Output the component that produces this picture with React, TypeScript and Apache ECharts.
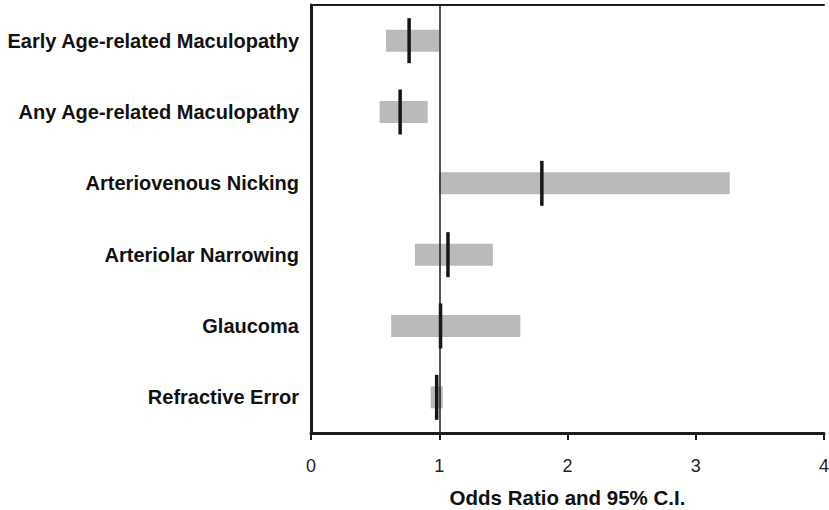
import React, { useEffect, useRef } from "react";
import * as echarts from "echarts";

// Outcomes, top to bottom
const categories = [
  "Early Age-related Maculopathy",
  "Any Age-related Maculopathy",
  "Arteriovenous Nicking",
  "Arteriolar Narrowing",
  "Glaucoma",
  "Refractive Error",
];

// Odds ratio point estimates
const oddsRatio = [0.765, 0.695, 1.8, 1.068, 1.01, 0.98];
// 95% confidence interval bounds
const ciLower = [0.585, 0.535, 1.0, 0.81, 0.625, 0.933];
const ciUpper = [1.0, 0.91, 3.265, 1.418, 1.632, 1.028];

const xTicks = [0, 1, 2, 3, 4];

const FONT = "'Liberation Sans', Arial, Helvetica, sans-serif";
const INK = "#1c1c1c";

export default function App() {
  const ref = useRef<HTMLDivElement>(null);

  useEffect(() => {
    if (!ref.current) return;
    const chart = echarts.init(ref.current, null, { renderer: "svg" });

    const data = categories.map((_, i) => [i, ciLower[i], ciUpper[i], oddsRatio[i]]);

    chart.setOption({
      animation: false,
      backgroundColor: "#ffffff",
      grid: {
        left: 311,
        right: 5,
        top: 5,
        bottom: 77,
        containLabel: false,
        outerBoundsMode: "none",
      },
      xAxis: [
        {
          type: "value",
          min: xTicks[0],
          max: xTicks[xTicks.length - 1],
          interval: 1,
          splitLine: { show: false },
          axisLine: { show: true, lineStyle: { color: INK, width: 3 } },
          axisTick: { show: true, length: 7, lineStyle: { color: INK, width: 2 } },
          axisLabel: {
            color: "#222",
            fontSize: 18,
            fontFamily: FONT,
            margin: 24,
          },
          name: "Odds Ratio and 95% C.I.",
          nameLocation: "middle",
          nameGap: 54,
          nameTextStyle: {
            color: "#111",
            fontSize: 20.5,
            fontWeight: "bold",
            fontFamily: FONT,
          },
        },
        {
          // top edge of the frame
          type: "value",
          position: "top",
          min: xTicks[0],
          max: xTicks[xTicks.length - 1],
          interval: 1,
          splitLine: { show: false },
          axisLine: { show: true, lineStyle: { color: INK, width: 2 } },
          axisTick: { show: false },
          axisLabel: { show: false },
        },
      ],
      yAxis: [
        {
          type: "category",
          data: categories,
          inverse: true,
          axisLine: { show: true, lineStyle: { color: INK, width: 3 } },
          axisTick: { show: false },
          splitLine: { show: false },
          axisLabel: {
            color: "#111",
            fontSize: 20,
            fontWeight: "bold",
            fontFamily: FONT,
            margin: 12,
          },
        },
        {
          // right edge of the frame
          type: "category",
          data: categories,
          inverse: true,
          position: "right",
          axisLine: { show: true, lineStyle: { color: INK, width: 2 } },
          axisTick: { show: false },
          axisLabel: { show: false },
          splitLine: { show: false },
        },
      ],
      series: [
        {
          type: "custom",
          data,
          xAxisIndex: 0,
          yAxisIndex: 0,
          encode: { x: [1, 2, 3], y: 0 },
          renderItem: (params: any, api: any) => {
            const cat = api.value(0);
            const lo = api.coord([api.value(1), cat]);
            const hi = api.coord([api.value(2), cat]);
            const mid = api.coord([api.value(3), cat]);
            const barH = 22;
            const tickH = 45;
            const tickW = 3.5;
            return {
              type: "group",
              children: [
                {
                  type: "rect",
                  shape: { x: lo[0], y: lo[1] - barH / 2, width: hi[0] - lo[0], height: barH },
                  style: { fill: "#bababa" },
                },
                {
                  type: "rect",
                  shape: { x: mid[0] - tickW / 2, y: mid[1] - tickH / 2, width: tickW, height: tickH },
                  style: { fill: "#161616" },
                },
              ],
            };
          },
          markLine: {
            silent: true,
            symbol: "none",
            label: { show: false },
            lineStyle: { color: INK, width: 1.5, type: "solid" },
            data: [{ xAxis: 1 }],
          },
          z: 3,
        },
      ],
    });

    return () => chart.dispose();
  }, []);

  return (
    <div
      ref={ref}
      style={{ position: "fixed", left: 0, top: 0, width: 829, height: 510 }}
    />
  );
}
